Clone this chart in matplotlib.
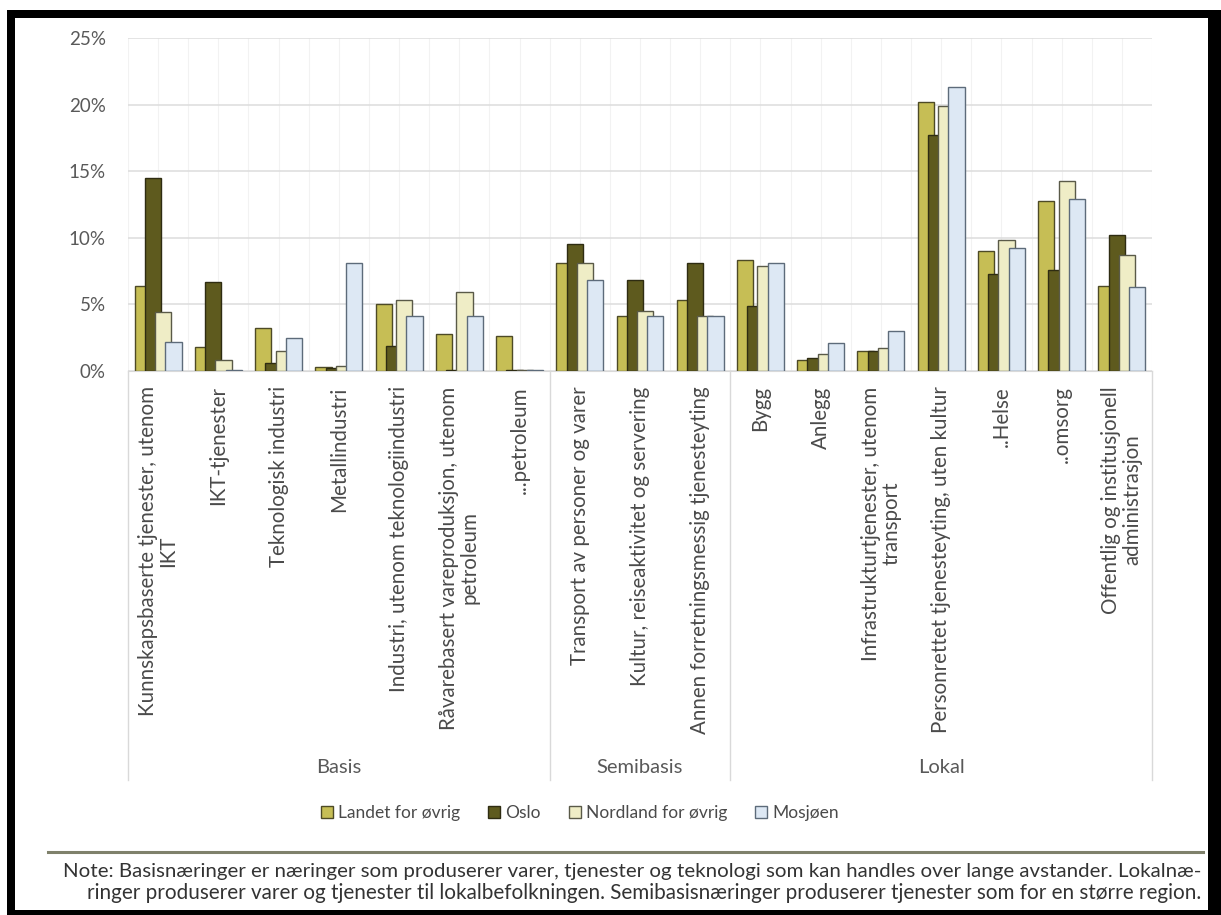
import matplotlib

matplotlib.use("Agg")
import matplotlib.pyplot as plt
from matplotlib.lines import Line2D
from matplotlib.patches import Patch, Rectangle
import numpy as np

# Share of employment by industry, four regions
categories = [
    "Kunnskapsbaserte tjenester, utenom\nIKT",
    "IKT-tjenester",
    "Teknologisk industri",
    "Metallindustri",
    "Industri, utenom teknologiindustri",
    "Råvarebasert vareproduksjon, utenom\npetroleum",
    "...petroleum",
    "Transport av personer og varer",
    "Kultur, reiseaktivitet og servering",
    "Annen forretningsmessig tjenesteyting",
    "Bygg",
    "Anlegg",
    "Infrastrukturtjenester, utenom\ntransport",
    "Personrettet tjenesteyting, uten kultur",
    "..Helse",
    "..omsorg",
    "Offentlig og institusjonell\nadministrasjon",
]
groups = ["Basis", "Semibasis", "Lokal"]
group_sizes = [7, 3, 7]

series = ["Landet for øvrig", "Oslo", "Nordland for øvrig", "Mosjøen"]
landet = [6.4, 1.8, 3.2, 0.3, 5.0, 2.8, 2.6, 8.1, 4.1, 5.3, 8.3, 0.8, 1.5, 20.2, 9.0, 12.8, 6.4]
oslo = [14.5, 6.7, 0.6, 0.2, 1.9, 0.1, 0.1, 9.5, 6.8, 8.1, 4.9, 1.0, 1.5, 17.7, 7.3, 7.6, 10.2]
nordland = [4.4, 0.8, 1.5, 0.4, 5.3, 5.9, 0.1, 8.1, 4.5, 4.1, 7.9, 1.3, 1.7, 19.9, 9.8, 14.3, 8.7]
mosjoen = [2.2, 0.1, 2.5, 8.1, 4.1, 4.1, 0.1, 6.8, 4.1, 4.1, 8.1, 2.1, 3.0, 21.3, 9.2, 12.9, 6.3]

fills = ["#c6be55", "#5e5a1e", "#efedc6", "#dde8f4"]
edges = ["#4d4a26", "#2e2c12", "#5a5a48", "#5d6b7a"]

W, H = 1221, 915
plt.rcParams["font.family"] = ["Lato", "DejaVu Sans"]
fig = plt.figure(figsize=(W / 100, H / 100), dpi=100, facecolor="white")

# black frame round the whole figure
for x0, y0, w, h in [(7, 10, W - 7, 8), (7, 10, 8, H - 10), (W - 13, 10, 13, H - 10), (7, H - 5, W - 7, 5)]:
    fig.add_artist(Rectangle((x0 / W, 1 - (y0 + h) / H), w / W, h / H,
                             transform=fig.transFigure, color="black", lw=0))

ax = fig.add_axes([128 / W, 1 - 371 / H, 1024 / W, 333 / H])
ax.set_xlim(-0.5, len(categories) - 0.5)
ax.set_ylim(0, 25)

x = np.arange(len(categories))
bw, step = 0.27, 0.17
for j, vals in enumerate([landet, oslo, nordland, mosjoen]):
    ax.bar(x - 0.39 + j * step, vals, width=bw, align="edge", color=fills[j],
           edgecolor=edges[j], linewidth=1.0, zorder=2 + j, label=series[j])

# grid
for gx in np.arange(-0.5, len(categories), 0.5):
    ax.axvline(gx, color="#f2f2f2", lw=0.8, zorder=0)
ax.set_yticks(range(0, 26, 5))
ax.set_yticklabels([f"{v}%" for v in range(0, 26, 5)])
ax.yaxis.grid(True, color="#dcdcdc", lw=1.1, zorder=1)
ax.set_axisbelow(True)
for s in ["top", "right", "left"]:
    ax.spines[s].set_visible(False)
ax.spines["bottom"].set_color("#d9d9d9")
ax.tick_params(axis="y", length=0, pad=16, labelsize=13.5, labelcolor="#595959")

ax.set_xticks(x)
ax.set_xticklabels(categories, rotation=90, va="top", ha="center",
                   multialignment="center", linespacing=1.05)
ax.tick_params(axis="x", length=0, pad=11, labelsize=14.8, labelcolor="#4a4a4a")

# group separators and group names under the category labels
bounds = np.concatenate([[0], np.cumsum(group_sizes)]) - 0.5
tr = ax.get_xaxis_transform()
for b in bounds:
    ax.plot([b, b], [0, -1.228], transform=tr, clip_on=False, color="#d9d9d9", lw=1.0)
for name, a, b in zip(groups, bounds[:-1], bounds[1:]):
    ax.text((a + b) / 2, -1.192, name, transform=tr, ha="center", va="center",
            fontsize=14.5, color="#595959")

handles = [Patch(facecolor=fills[j], edgecolor=edges[j], lw=1.0) for j in range(4)]
fig.legend(handles, series, loc="center", bbox_to_anchor=(580 / W, 1 - 813 / H), ncol=4,
           frameon=False, handlelength=0.7, handleheight=0.7, handletextpad=0.3,
           columnspacing=1.6, fontsize=12.5, labelcolor="#4a4a4a")

fig.add_artist(Line2D([48 / W, 1203 / W], [1 - 852 / H] * 2, color="#7f816b", lw=2.2))

note = [
    "Note: Basisnæringer er næringer som produserer varer, tjenester og teknologi som kan handles over lange avstander. Lokalnæ-",
    "ringer produserer varer og tjenester til lokalbefolkningen. Semibasisnæringer produserer tjenester som for en større region.",
]
widths = [1132, 1112]
renderer = fig.canvas.get_renderer()
for line, yy, wpx in zip(note, [872, 893], widths):
    t = fig.text(1201 / W, 1 - yy / H, line, ha="right", va="center", fontsize=13, color="#333333")
    t.set_fontsize(13 * wpx / t.get_window_extent(renderer).width)

fig.savefig("out.png", dpi=100)
